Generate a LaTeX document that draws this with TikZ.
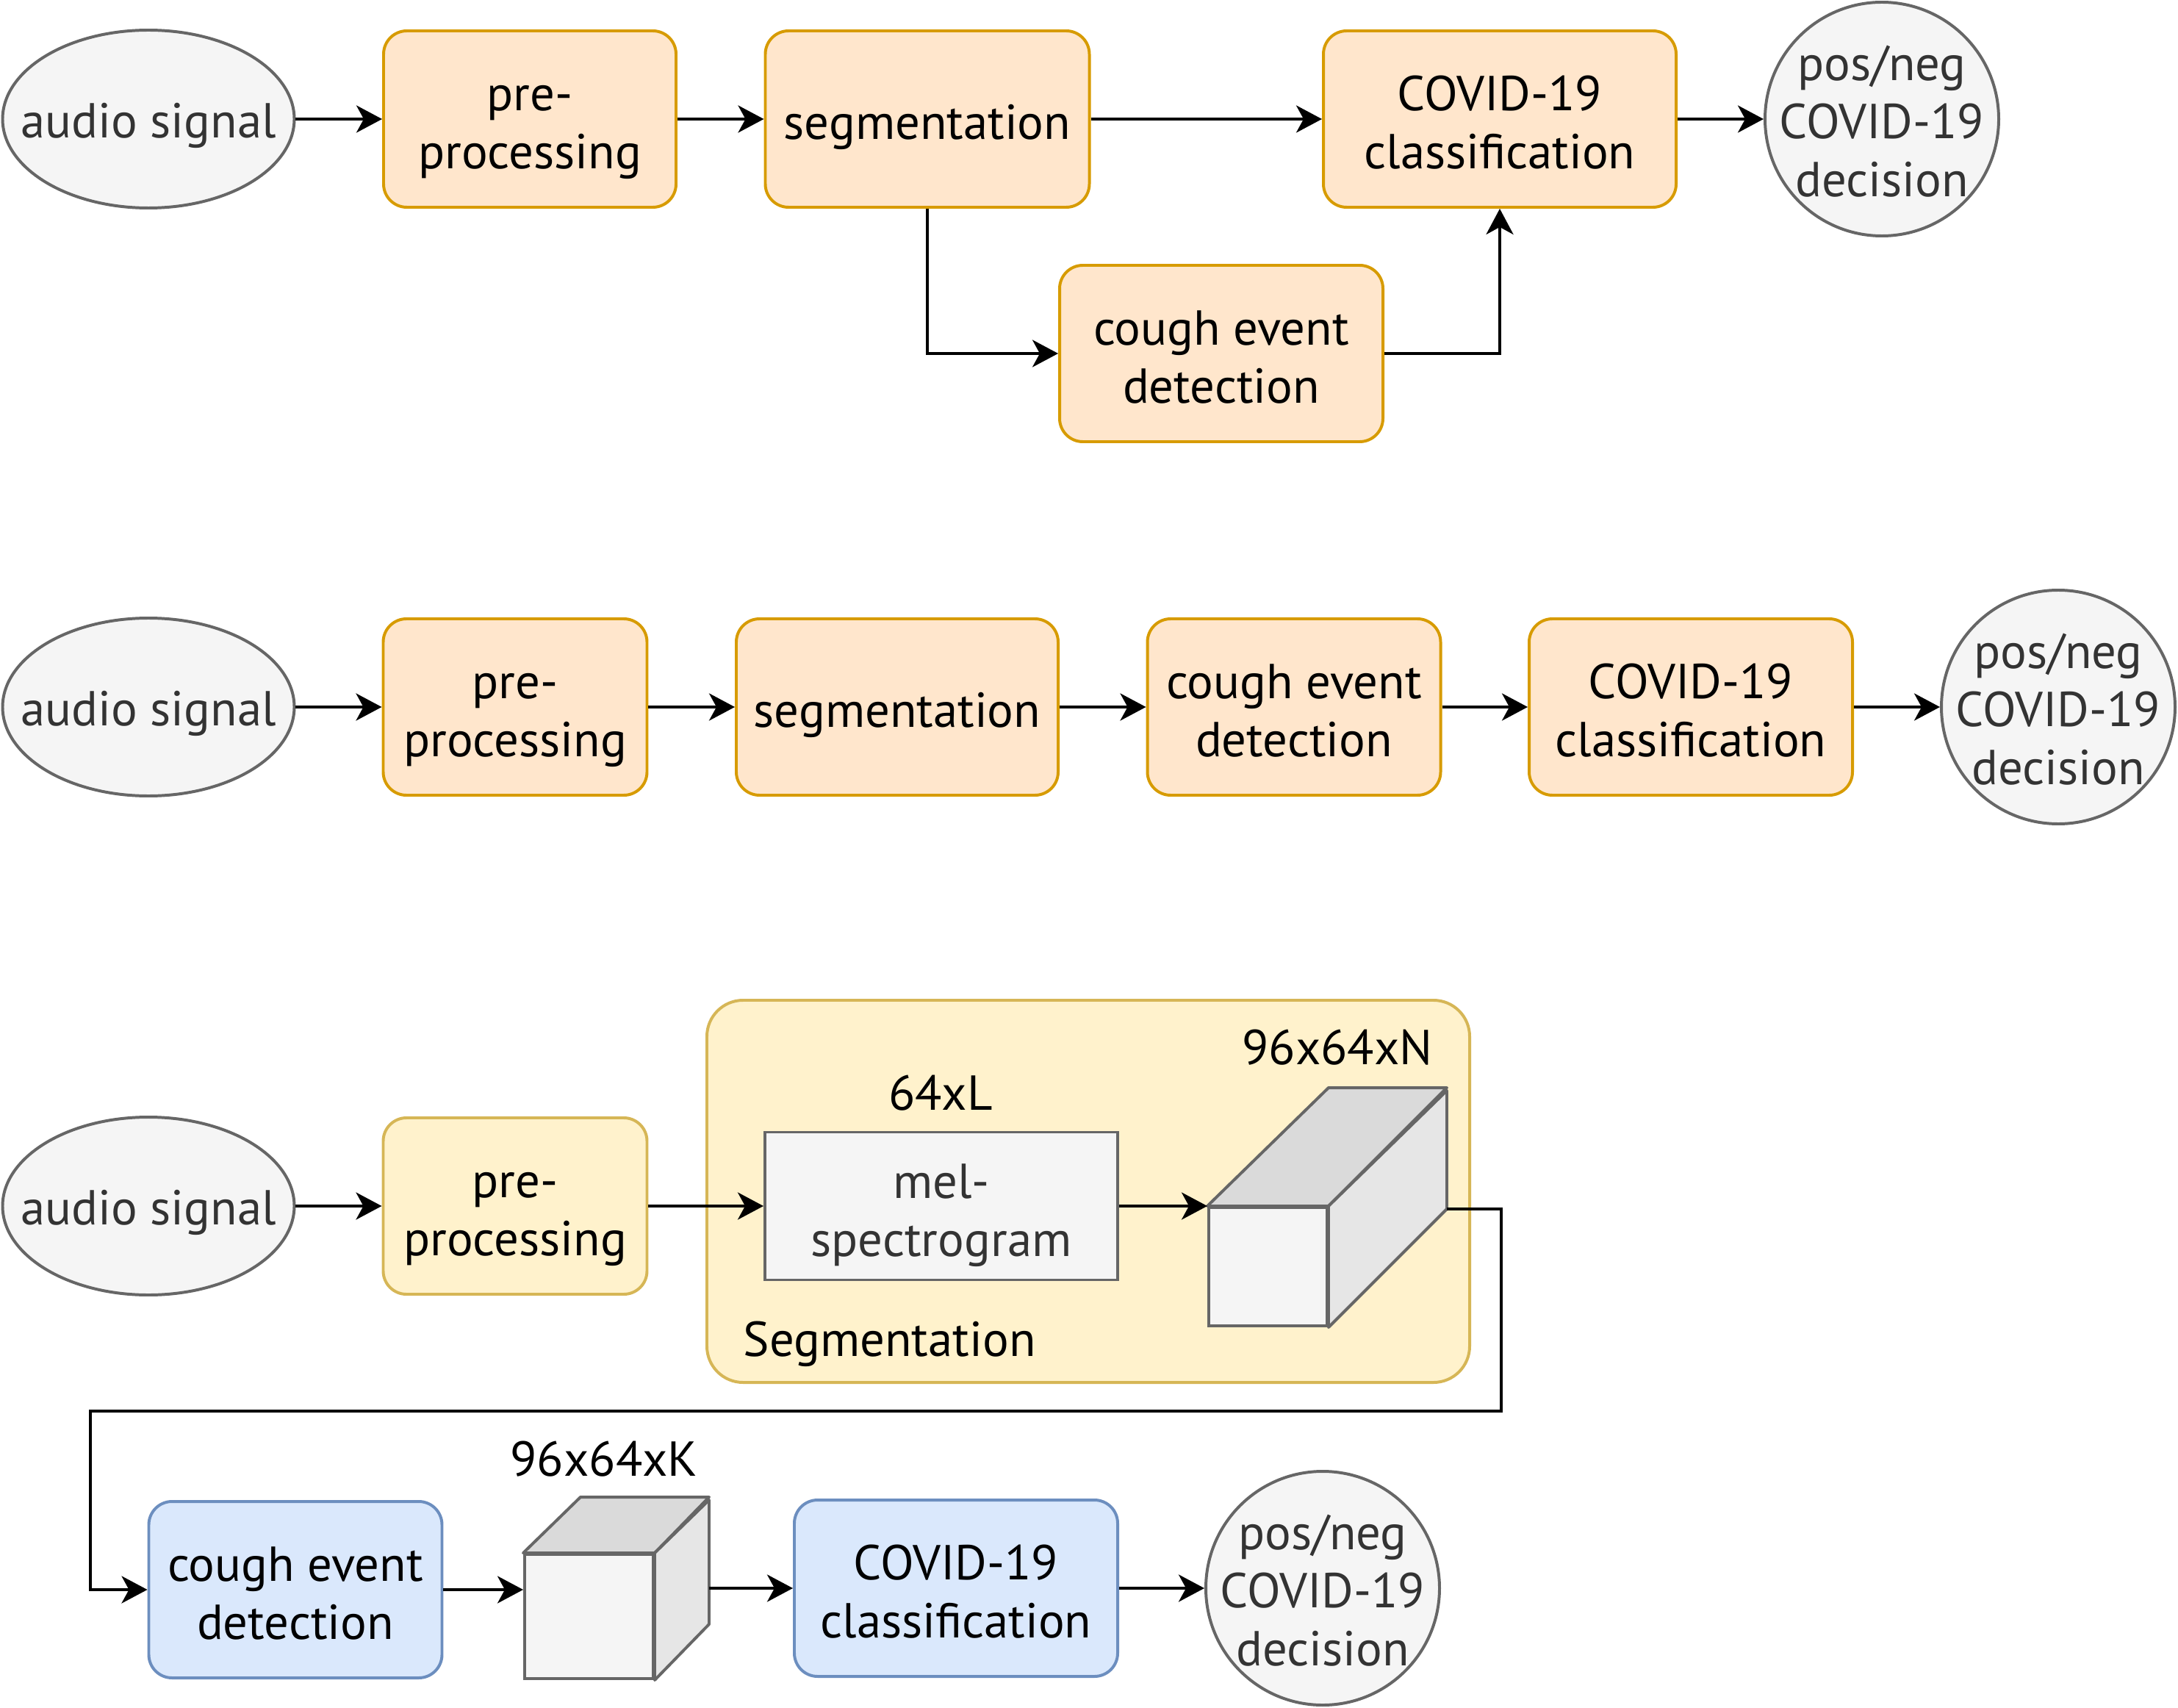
\documentclass[tikz,border=0pt]{standalone}
\usepackage{fontspec}
\setmainfont{PT Sans}
\usetikzlibrary{shapes.geometric, arrows.meta, positioning, calc}
\definecolor{stepfill}{HTML}{FFE6CC}
\definecolor{stepline}{HTML}{D79B00}
\definecolor{segfill}{HTML}{FFF2CC}
\definecolor{segline}{HTML}{D6B656}
\definecolor{netfill}{HTML}{DAE8FC}
\definecolor{netline}{HTML}{6C8EBF}
\definecolor{greyfill}{HTML}{F5F5F5}
\definecolor{greyline}{HTML}{666666}
\definecolor{greytext}{HTML}{333333}
\definecolor{cubetop}{HTML}{DADADA}
\definecolor{cubeside}{HTML}{E6E6E6}

\begin{document}
\begin{tikzpicture}[
  font=\fontsize{19}{22.5}\selectfont,
  line width=1.13pt,
  stepbox/.style={draw=stepline, fill=stepfill, rounded corners=9pt, align=center, minimum height=2.4cm, inner sep=0pt,
    text height=44.3pt, text depth=6pt},
  oneline/.style={text height=21.7pt},
  prebox/.style={stepbox, draw=segline, fill=segfill},
  netbox/.style={stepbox, draw=netline, fill=netfill},
  source/.style={ellipse, draw=greyline, fill=greyfill, minimum width=3.97cm, minimum height=2.42cm, inner sep=0pt,
    label={[text=greytext, yshift=-0.09cm]center:audio signal}},
  decision/.style={circle, draw=greyline, fill=greyfill, minimum size=3.18cm, inner sep=0pt,
    label={[text=greytext, align=center, yshift=-0.03cm]center:pos/neg\\COVID-19\\decision}},
  cubefront/.style={draw=greyline, fill=greyfill, inner sep=0pt},
  cubeface/.style={draw=greyline, line join=round},
  arr/.style={-{Stealth[length=0.35cm, width=0.37cm, inset=0.1cm]}}
]
  \useasboundingbox (0,0) rectangle (29.64,-23.24);

  % cough detection in parallel
  \node[source] (audio1) at (2.02,-1.62) {};
  \node[stepbox, minimum width=3.98cm] (pre1) at (7.21,-1.62) {pre-\\processing};
  \node[stepbox, oneline, minimum width=4.41cm] (seg1) at (12.62,-1.62) {segmentation};
  \node[stepbox, minimum width=4.80cm] (covid1) at (20.41,-1.62) {COVID-19\\classification};
  \node[decision] (pos1) at (25.61,-1.62) {};
  \node[stepbox, minimum width=4.40cm] (cough1) at (16.62,-4.81) {cough event\\detection};
  \draw[arr] (audio1) -- (pre1);
  \draw[arr] (pre1) -- (seg1);
  \draw[arr] (seg1) -- (covid1);
  \draw[arr] (covid1) -- (pos1);
  \draw[arr] (seg1.south) |- (cough1.west);
  \draw[arr] (cough1.east) -| (covid1.south);

  % cough detection in series
  \node[source] (audio2) at (2.02,-9.62) {};
  \node[stepbox, minimum width=3.59cm] (pre2) at (7.01,-9.62) {pre-\\processing};
  \node[stepbox, oneline, minimum width=4.38cm] (seg2) at (12.21,-9.62) {segmentation};
  \node[stepbox, minimum width=3.99cm] (cough2) at (17.61,-9.62) {cough event\\detection};
  \node[stepbox, minimum width=4.40cm] (covid2) at (23.01,-9.62) {COVID-19\\classification};
  \node[decision] (pos2) at (28.01,-9.62) {};
  \draw[arr] (audio2) -- (pre2);
  \draw[arr] (pre2) -- (seg2);
  \draw[arr] (seg2) -- (cough2);
  \draw[arr] (cough2) -- (covid2);
  \draw[arr] (covid2) -- (pos2);

  % detailed pipeline
  \node[draw=segline, fill=segfill, rounded corners=14pt, minimum width=10.38cm, minimum height=5.20cm] (segment) at (14.81,-16.21) {};
  \node[anchor=west] (segname) at (9.98,-18.29) {Segmentation};
  \node[source] (audio3) at (2.02,-16.41) {};
  \node[prebox, minimum width=3.59cm] (pre3) at (7.01,-16.41) {pre-\\processing};
  \node[draw=greyline, fill=greyfill, text=greytext, align=center, minimum width=4.80cm, minimum height=2.01cm, inner sep=0pt,
    text height=45pt, text depth=6pt] (mel) at (12.81,-16.41) {mel-\\spectrogram};
  \node (melsize) at (12.80,-14.87) {64xL};
  \node[cubefront, minimum size=1.61cm] (cubeN) at (17.255,-17.235) {};
  \draw[cubeface, fill=cubetop] (cubeN.north west) -- (cubeN.north east) -- ++(1.61,1.61) -- ++(-1.61,0) -- cycle;
  \draw[cubeface, fill=cubeside] (cubeN.north east) -- (cubeN.south east) -- ++(1.61,1.61) -- ++(0,1.61) -- cycle;
  \coordinate (cubeNout) at ($(cubeN.south east)+(1.61,1.61)$);
  \node (cubeNsize) at (18.20,-14.25) {96x64xN};

  \node[netbox, minimum width=3.99cm] (cough4) at (4.02,-21.63) {cough event\\detection};
  \node[cubefront, minimum width=1.75cm, minimum height=1.69cm] (cubeK) at (8.015,-21.995) {};
  \draw[cubeface, fill=cubetop] (cubeK.north west) -- (cubeK.north east) -- ++(0.74,0.76) -- ++(-1.75,0) -- cycle;
  \draw[cubeface, fill=cubeside] (cubeK.north east) -- (cubeK.south east) -- ++(0.74,0.76) -- ++(0,1.69) -- cycle;
  \coordinate (cubeKout) at ($(cubeK.south east)+(0.74,0.76)$);
  \node (cubeKsize) at (8.22,-19.85) {96x64xK};
  \node[netbox, minimum width=4.40cm] (covid4) at (13.01,-21.61) {COVID-19\\classification};
  \node[decision] (pos4) at (18.00,-21.61) {};

  \draw[arr] (audio3) -- (pre3);
  \draw[arr] (pre3) -- (mel);
  \draw[arr] (mel.east) -- (mel.east -| cubeN.west);
  \draw[arr] (cubeNout) -- ++(0.74,0) |- (1.23,-19.20) |- (cough4.west);
  \draw[arr] (cough4.east) -- (cough4.east -| cubeK.west);
  \draw[arr] (cubeKout |- covid4.west) -- (covid4.west);
  \draw[arr] (covid4) -- (pos4);
\end{tikzpicture}
\end{document}
